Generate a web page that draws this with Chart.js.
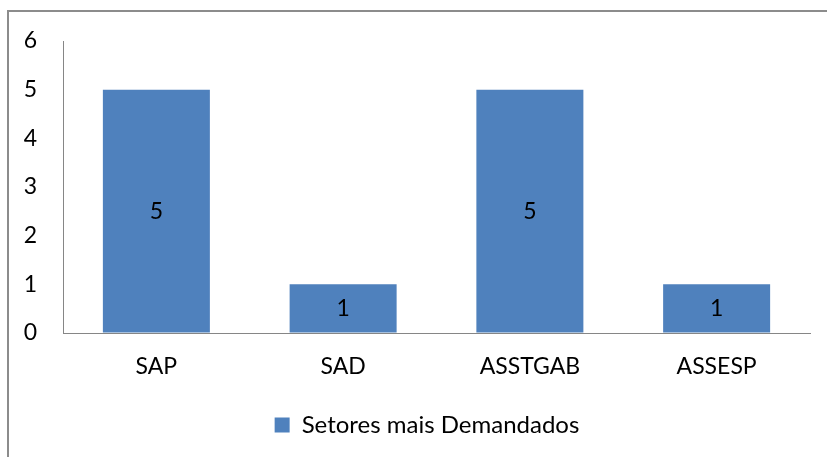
<!DOCTYPE html>
<html><head><meta charset="utf-8">
<script src="https://cdn.jsdelivr.net/npm/chart.js@4"></script>
<style>
html,body{margin:0;padding:0;background:#fff;overflow:hidden;}
#wrap{position:relative;width:827px;height:457px;}
#frame{position:absolute;left:7px;top:10px;width:900px;height:500px;border:2px solid #8c8c8c;box-sizing:border-box;}
canvas{position:absolute;left:0;top:0;}
</style></head>
<body><div id="wrap"><div id="frame"></div><canvas id="c" width="827" height="457"></canvas></div>
<script>
const categories = ["SAP", "SAD", "ASSTGAB", "ASSESP"];
const seriesName = "Setores mais Demandados";
const values = [5, 1, 5, 1];
const yTicks = [0, 1, 2, 3, 4, 5, 6];

const FONT = "Lato";
const valueLabels = {
  id: 'valueLabels',
  afterDatasetsDraw(chart) {
    const ctx = chart.ctx;
    const meta = chart.getDatasetMeta(0);
    ctx.save();
    ctx.fillStyle = '#000';
    ctx.font = '23px ' + FONT;
    ctx.textAlign = 'center';
    ctx.textBaseline = 'middle';
    meta.data.forEach((bar, i) => {
      const p = bar.getProps(['x', 'y', 'base'], true);
      ctx.fillText(String(values[i]), p.x, (p.y + p.base) / 2);
    });
    ctx.restore();
  }
};
const shiftLegend = {
  id: 'shiftLegend',
  afterLayout(chart) {
    if (chart.legend) { chart.legend.left += 22; chart.legend.right += 22; }
  }
};

new Chart(document.getElementById('c'), {
  type: 'bar',
  data: {
    labels: categories,
    datasets: [{
      label: seriesName,
      data: values,
      backgroundColor: '#4F81BD',
      borderWidth: 0,
      categoryPercentage: 1,
      barPercentage: 0.573
    }]
  },
  options: {
    responsive: false,
    animation: false,
    devicePixelRatio: 1,
    layout: { padding: { top: 41, right: 17, bottom: 10, left: 0 } },
    plugins: {
      legend: {
        position: 'bottom',
        labels: { font: { family: FONT, size: 24 }, color: '#000', boxWidth: 15, boxHeight: 15, padding: 9 }
      },
      tooltip: { enabled: false }
    },
    scales: {
      x: {
        grid: { display: true, color: 'rgba(0,0,0,0)', drawTicks: false },
        border: { display: true, color: '#868686', width: 1 },
        ticks: { font: { family: FONT, size: 23 }, color: '#000', padding: 20 },
        afterFit(s) { s.height = 71; }
      },
      y: {
        min: 0, max: 6,
        afterBuildTicks(s) { s.ticks = yTicks.map(v => ({ value: v })); },
        grid: { display: true, color: 'rgba(0,0,0,0)', drawTicks: false },
        border: { display: true, color: '#868686', width: 1 },
        ticks: { font: { family: FONT, size: 23 }, color: '#000', padding: 26 },
        afterFit(s) { s.width = 63; }
      }
    }
  },
  plugins: [valueLabels, shiftLegend]
});
</script></body></html>
